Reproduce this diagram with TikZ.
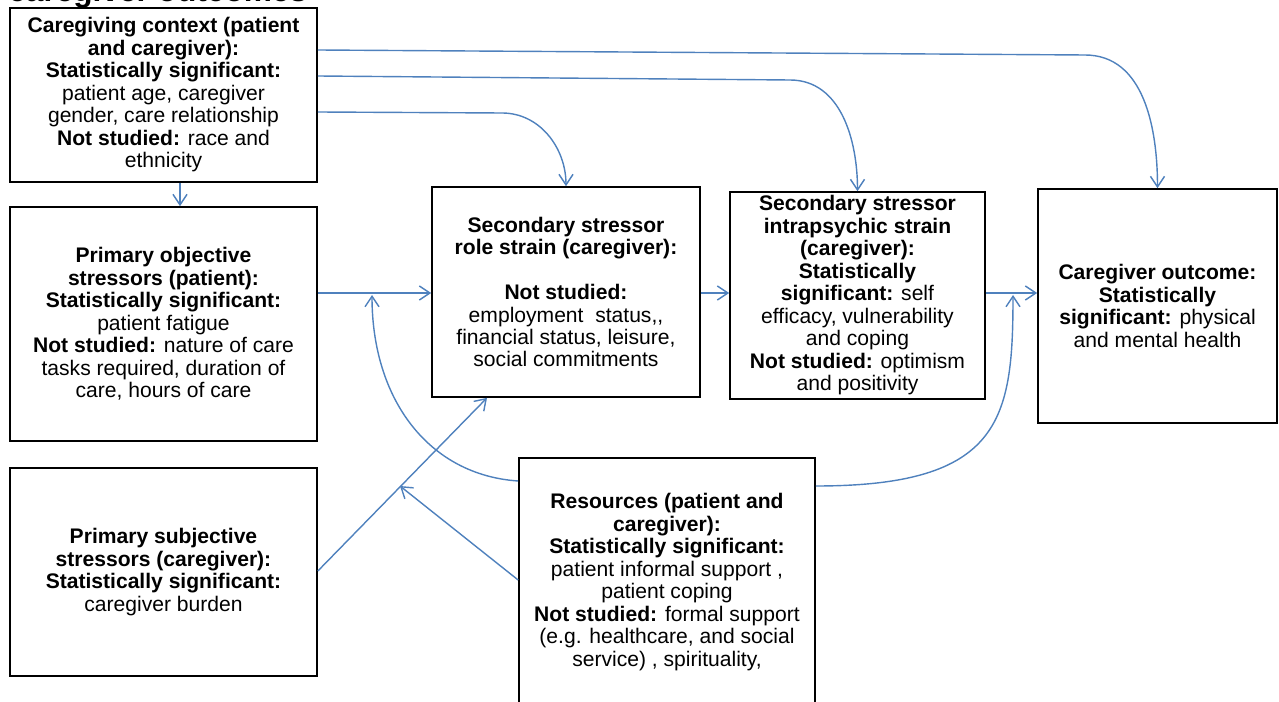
\documentclass[tikz,border=0pt]{standalone}
\usepackage{fontspec}
\setmainfont{Liberation Sans}
\usetikzlibrary{arrows.meta}

\begin{document}
\begin{tikzpicture}[x=0.02cm,y=-0.02cm,
  mybox/.style={draw=black,line width=1pt,fill=white,align=center,inner sep=2pt,
    font=\fontsize{12}{12.8}\selectfont},
  myarrow/.style={draw=arrowblue,line width=0.8pt,-{Straight Barb[length=6pt,width=8pt]}}]
\definecolor{arrowblue}{HTML}{4F81BD}
\useasboundingbox (0,0) rectangle (1279,702);
\clip (0,0) rectangle (1279,702);
\node[anchor=base west,font=\bfseries\fontsize{18}{20}\selectfont,inner sep=0pt] (title) at (8,2) {caregiver outcomes};
% boxes
\node[mybox,minimum width=6.14cm,minimum height=3.48cm] (ctx) at (163.5,95)
  {\textbf{Caregiving context (patient}\\ \textbf{and caregiver):}\\ \textbf{Statistically significant:}\\
   patient age, caregiver\\ gender, care relationship\\ \textbf{Not studied:} race and\\ ethnicity};
\node[mybox,minimum width=6.14cm,minimum height=4.68cm] (pobj) at (163.5,324)
  {\textbf{Primary objective}\\ \textbf{stressors (patient):}\\ \textbf{Statistically significant:}\\
   patient fatigue\\ \textbf{Not studied:} nature of care\\ tasks required, duration of\\ care, hours of care};
\node[mybox,minimum width=6.14cm,minimum height=4.16cm] (psub) at (163.5,572)
  {\textbf{Primary subjective}\\ \textbf{stressors (caregiver):}\\ \textbf{Statistically significant:}\\ caregiver burden};
\node[mybox,minimum width=5.36cm,minimum height=4.2cm] (role) at (566,292)
  {\textbf{Secondary stressor}\\ \textbf{role strain (caregiver):}\\[12.8pt] \textbf{Not studied:}\\
   employment\ \ status,{},\\ financial status, leisure,\\ social commitments};
\node[mybox,minimum width=5.1cm,minimum height=4.14cm] (intra) at (857.5,295.5)
  {\textbf{Secondary stressor}\\ \textbf{intrapsychic strain}\\ \textbf{(caregiver):}\\ \textbf{Statistically}\\
   \textbf{significant:} self\\ efficacy, vulnerability\\ and coping\\ \textbf{Not studied:} optimism\\ and positivity};
\node[mybox,minimum width=4.78cm,minimum height=4.68cm] (outc) at (1157.5,306)
  {\textbf{Caregiver outcome:}\\ \textbf{Statistically}\\ \textbf{significant:} physical\\ and mental health};
\node[mybox,minimum width=5.92cm,minimum height=4.96cm] (res) at (667,582)
  {\textbf{Resources (patient and}\\ \textbf{caregiver):}\\ \textbf{Statistically significant:}\\
   patient informal support ,\\ patient coping\\ \textbf{Not studied:} formal support\\
   (e.g. healthcare, and social\\ service) , spirituality,};
% ends of arrows that stop on other arrows
\coordinate (c1) at (372,295);
\coordinate (c2) at (400,486);
\coordinate (c3) at (1013,295);
% arrows
\draw[myarrow] (ctx.south -| 180,0) -- (pobj.north -| 180,0);
\foreach \ya/\yb/\xb/\tgt in {50/55/1085/outc,76/80/790/intra,112/113/502/role}
  \draw[myarrow] (ctx.east |- 0,\ya) -- (\xb,\yb) to[out=0,in=90] (\tgt.north);
\foreach \a/\b in {pobj/role,role/intra,intra/outc}
  \draw[myarrow] (\a.east |- 0,293) -- (\b.west |- 0,293);
\draw[myarrow] (psub.east |- 0,571) -- (role.south -| 487,0);
\draw[myarrow] (res.west |- 0,481) .. controls +(-89,-6) and +(0,105) .. (c1);
\draw[myarrow] (res.west |- 0,580) -- (c2);
\draw[myarrow] (res.east |- 0,486) .. controls +(185,0) and +(0,125) .. (c3);
\end{tikzpicture}
\end{document}
